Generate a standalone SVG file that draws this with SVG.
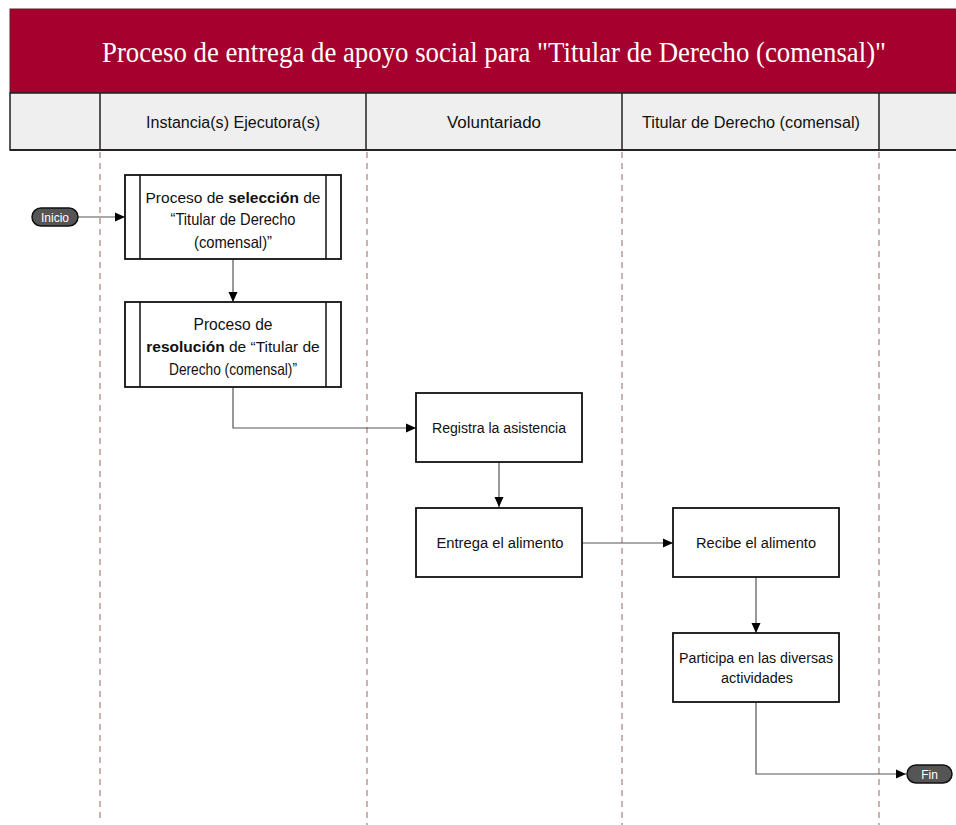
<svg xmlns="http://www.w3.org/2000/svg" width="956" height="825" viewBox="0 0 956 825">
<style>
.t{font-family:"Liberation Sans",Arial,sans-serif;fill:#111;text-anchor:middle}
.b{font-weight:bold}
.box{fill:#fff;stroke:#111;stroke-width:1.8}
.inner{stroke:#111;stroke-width:1.5}
.lane{stroke:#b08a8a;stroke-width:1.3;stroke-dasharray:6,5;fill:none}
.con{stroke:#555;stroke-width:1.2;fill:none}
.pill{fill:#555;stroke:#111;stroke-width:1.5}
.pt{font-family:"Liberation Sans",Arial,sans-serif;fill:#fff;font-size:12px;text-anchor:middle}
</style>
<defs>
<marker id="ah" viewBox="0 0 10 10" refX="10" refY="5" markerWidth="10" markerHeight="10" markerUnits="userSpaceOnUse" orient="auto">
<path d="M0,0.5 L10,5 L0,9.5 Z" fill="#000"/>
</marker>
</defs>
<rect width="956" height="825" fill="#fff"/>
<g id="header">
<rect x="10" y="9" width="950" height="84" fill="#a6002f" stroke="#6d1a25" stroke-width="1"/>
<text x="494" y="62" font-family="Liberation Serif,Times New Roman,serif" font-size="29" fill="#fff" text-anchor="middle" textLength="784" lengthAdjust="spacingAndGlyphs">Proceso de entrega de apoyo social para "Titular de Derecho (comensal)"</text>
</g>
<g id="lanes-header">
<rect x="10" y="93" width="950" height="57" fill="#efefef" stroke="#222" stroke-width="1.5"/>
<line x1="10" y1="150" x2="956" y2="150" stroke="#222" stroke-width="2"/>
<line x1="100" y1="93" x2="100" y2="150" stroke="#222" stroke-width="1.5"/>
<line x1="366" y1="93" x2="366" y2="150" stroke="#222" stroke-width="1.5"/>
<line x1="622" y1="93" x2="622" y2="150" stroke="#222" stroke-width="1.5"/>
<line x1="879" y1="93" x2="879" y2="150" stroke="#222" stroke-width="1.5"/>
<text class="t" x="233" y="128" font-size="16" textLength="174" lengthAdjust="spacingAndGlyphs">Instancia(s) Ejecutora(s)</text>
<text class="t" x="494" y="128" font-size="16" textLength="94" lengthAdjust="spacingAndGlyphs">Voluntariado</text>
<text class="t" x="751" y="128" font-size="16" textLength="218" lengthAdjust="spacingAndGlyphs">Titular de Derecho (comensal)</text>
</g>
<g id="lane-dividers">
<line class="lane" x1="100" y1="152" x2="100" y2="820"/>
<line class="lane" x1="367" y1="152" x2="367" y2="825"/>
<line class="lane" x1="622" y1="152" x2="622" y2="825"/>
<line class="lane" x1="879" y1="152" x2="879" y2="825"/>
</g>
<g id="connectors">
<line class="con" x1="78" y1="217" x2="125" y2="217" marker-end="url(#ah)"/>
<line class="con" x1="233" y1="259" x2="233" y2="302" marker-end="url(#ah)"/>
<polyline class="con" points="233,387 233,428 416,428" marker-end="url(#ah)"/>
<line class="con" x1="499" y1="462" x2="499" y2="507" marker-end="url(#ah)"/>
<line class="con" x1="582" y1="543" x2="673" y2="543" marker-end="url(#ah)"/>
<line class="con" x1="756" y1="577" x2="756" y2="633" marker-end="url(#ah)"/>
<polyline class="con" points="756,702 756,774 906,774" marker-end="url(#ah)"/>
</g>
<g id="inicio">
<rect class="pill" x="32" y="208" width="46" height="18" rx="9"/>
<text class="pt" x="55" y="221.5">Inicio</text>
</g>
<g id="seleccion">
<rect class="box" x="125" y="175" width="216" height="84"/>
<line class="inner" x1="140" y1="175" x2="140" y2="259"/>
<line class="inner" x1="326" y1="175" x2="326" y2="259"/>
<text class="t" x="233" y="203" font-size="15.5">Proceso de <tspan class="b">selección</tspan> de</text>
<text class="t" x="233" y="225" font-size="16.5" textLength="125" lengthAdjust="spacingAndGlyphs">“Titular de Derecho</text>
<text class="t" x="233" y="248" font-size="16.5" textLength="78" lengthAdjust="spacingAndGlyphs">(comensal)”</text>
</g>
<g id="resolucion">
<rect class="box" x="125" y="302" width="216" height="85"/>
<line class="inner" x1="140" y1="302" x2="140" y2="387"/>
<line class="inner" x1="326" y1="302" x2="326" y2="387"/>
<text class="t" x="233" y="330" font-size="16.5" textLength="79" lengthAdjust="spacingAndGlyphs">Proceso de</text>
<text class="t" x="233" y="352" font-size="15.5"><tspan class="b">resolución</tspan> de “Titular de</text>
<text class="t" x="233" y="375" font-size="16.5" textLength="128" lengthAdjust="spacingAndGlyphs">Derecho (comensal)”</text>
</g>
<g id="registra">
<rect class="box" x="416" y="393" width="166" height="69"/>
<text class="t" x="499" y="433" font-size="14" textLength="134" lengthAdjust="spacingAndGlyphs">Registra la asistencia</text>
</g>
<g id="entrega">
<rect class="box" x="416" y="508" width="166" height="69"/>
<text class="t" x="500" y="548" font-size="14" textLength="127" lengthAdjust="spacingAndGlyphs">Entrega el alimento</text>
</g>
<g id="recibe">
<rect class="box" x="673" y="508" width="166" height="69"/>
<text class="t" x="756" y="548" font-size="14" textLength="120" lengthAdjust="spacingAndGlyphs">Recibe el alimento</text>
</g>
<g id="participa">
<rect class="box" x="673" y="633" width="166" height="69"/>
<text class="t" x="756" y="663" font-size="14" textLength="154" lengthAdjust="spacingAndGlyphs">Participa en las diversas</text>
<text class="t" x="757" y="683" font-size="14" textLength="72" lengthAdjust="spacingAndGlyphs">actividades</text>
</g>
<g id="fin">
<rect class="pill" x="907" y="765" width="45" height="18" rx="9"/>
<text class="pt" x="929.5" y="778.5">Fin</text>
</g>
</svg>
